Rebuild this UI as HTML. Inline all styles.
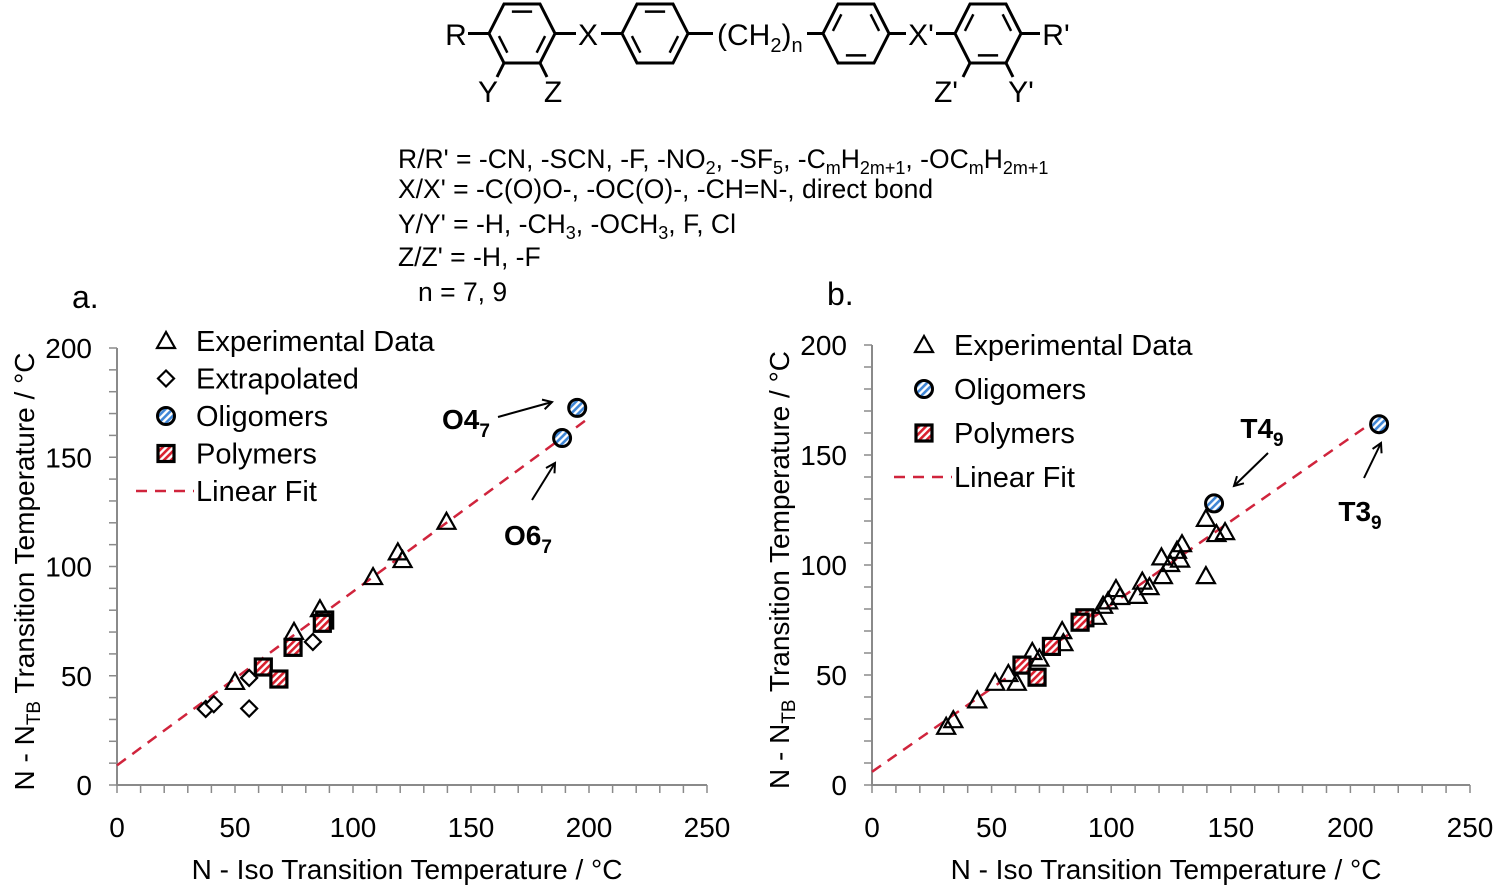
<!DOCTYPE html>
<html><head><meta charset="utf-8"><style>
html,body{margin:0;padding:0;background:#fff;}
svg{display:block;font-family:"Liberation Sans",Arial,sans-serif;}
</style></head><body>
<svg id="fig" width="1500" height="889" viewBox="0 0 1500 889">
<defs>
<pattern id="hr" width="5" height="5" patternUnits="userSpaceOnUse" patternTransform="rotate(45)"><rect width="5" height="5" fill="#fff"/><rect width="2.6" height="5" fill="#d9202e"/></pattern>
<pattern id="hb" width="5" height="5" patternUnits="userSpaceOnUse" patternTransform="rotate(45)"><rect width="5" height="5" fill="#fff"/><rect width="2.6" height="5" fill="#3f86d6"/></pattern>
<marker id="ah" markerWidth="12" markerHeight="12" refX="10" refY="6" orient="auto" markerUnits="userSpaceOnUse"><path d="M1,1 L10,6 L1,11" fill="none" stroke="#000" stroke-width="2"/></marker>
</defs>
<g id="structure" stroke="#000" stroke-width="3" fill="none"></g>
<g font-size="26.5" fill="#000">
<text x="398" y="168">R/R' = -CN, -SCN, -F, -NO<tspan font-size="18" dy="6">2</tspan><tspan dy="-6">, -SF</tspan><tspan font-size="18" dy="6">5</tspan><tspan dy="-6">, -C</tspan><tspan font-size="18" dy="6">m</tspan><tspan dy="-6">H</tspan><tspan font-size="18" dy="6">2m+1</tspan><tspan dy="-6">, -OC</tspan><tspan font-size="18" dy="6">m</tspan><tspan dy="-6">H</tspan><tspan font-size="18" dy="6">2m+1</tspan></text>
<text x="398" y="198">X/X' = -C(O)O-, -OC(O)-, -CH=N-, direct bond</text>
<text x="398" y="233">Y/Y' = -H, -CH<tspan font-size="18" dy="6">3</tspan><tspan dy="-6">, -OCH</tspan><tspan font-size="18" dy="6">3</tspan><tspan dy="-6">, F, Cl</tspan></text>
<text x="398" y="266">Z/Z' = -H, -F</text>
<text x="418" y="301">n  = 7, 9</text>
</g>
<g id="chartA"></g>
<g id="chartB"></g>
</svg>
<script>
// ---------- data ----------
const xTicks = [0, 50, 100, 150, 200, 250];
const yTicks = [0, 50, 100, 150, 200];
// chart a
const aExpX = [50, 75, 86, 108.5, 119, 121, 139.6];
const aExpY = [46.7, 69.6, 80, 94.7, 106, 102.5, 120];
const aExtX = [37.6, 41, 56, 56, 83];
const aExtY = [34.8, 37, 49, 35, 65.5];
const aOligX = [195, 188.6];
const aOligY = [172.6, 158.8];
const aPolyX = [62, 68.6, 74.6, 88, 87];
const aPolyY = [54, 48.5, 63, 75.5, 74];
const aFitX = [0, 200];
const aFitY = [9, 168];
// chart b
const bExpX = [31, 34, 44, 51.5, 57, 60.5, 67, 70, 79.5, 80, 94, 96.6, 98.7, 102, 103.7, 111, 113, 116, 121, 121.6, 124.6, 127.5, 129.6, 128.8, 139.6, 139.6, 144, 147.6];
const bExpY = [26, 29, 38, 46, 50, 46, 60, 57, 69.5, 64, 76, 81, 83, 88.6, 85, 85.5, 92, 89.5, 103, 94.5, 100, 106, 109, 102, 120.5, 94.5, 113.6, 114.5];
const bOligX = [143, 212];
const bOligY = [128, 164];
const bPolyX = [62.7, 69, 75, 89, 87];
const bPolyY = [54.5, 49, 63, 76, 74];
const bFitX = [0, 212];
const bFitY = [6, 167];

const NS = "http://www.w3.org/2000/svg";
function el(parent, tag, attrs, text){
  const e = document.createElementNS(NS, tag);
  for (const k in attrs) e.setAttribute(k, attrs[k]);
  if (text !== undefined) e.textContent = text;
  parent.appendChild(e);
  return e;
}

// ---------- structure ----------
(function(){
  const g = document.getElementById('structure');
  const cy = 33.5;
  function hex(cx, inner){
    const pts = [[cx-33,cy],[cx-18,cy-29.5],[cx+18,cy-29.5],[cx+33,cy],[cx+18,cy+29.5],[cx-18,cy+29.5]];
    const p = el(g,'polygon',{points:pts.map(p=>p.join(',')).join(' ')});
    
    
    inner.forEach(i=>{
      const a=pts[i], b=pts[(i+1)%6];
      const s=0.74;
      const ax=cx+(a[0]-cx)*s, ay=cy+(a[1]-cy)*s, bx=cx+(b[0]-cx)*s, by=cy+(b[1]-cy)*s;
      const sh=0.12;
      el(g,'line',{x1:ax+(bx-ax)*sh,y1:ay+(by-ay)*sh,x2:bx-(bx-ax)*sh,y2:by-(by-ay)*sh,'stroke-width':2.5});
    });
  }
  hex(522,[1,3,5]); hex(655,[1,3,5]); hex(856,[0,2,4]); hex(988,[0,2,4]);
  const L=(x1,y1,x2,y2)=>el(g,'line',{x1,y1,x2,y2});
  L(468,cy,489,cy); L(555,cy,576,cy); L(601,cy,622,cy); L(688,cy,713,cy);
  L(807,cy,823,cy); L(889,cy,906,cy); L(936,cy,955,cy); L(1021,cy,1040,cy);
  L(504,63,497,77); L(540,63,547,77); L(970,63,963,77); L(1006,63,1013,77);
  const t=(x,y,s,nm)=>{const e=el(g,'text',{x,y,'font-size':30,fill:'#000',stroke:'none','text-anchor':'middle'},s);   return e;};
  t(456,45,'R','r-label'); t(588,45,'X','x-label'); t(488,102,'Y','y-label'); t(553,102,'Z','z-label');
  t(921,45,"X'",'x-prime-label'); t(1056,45,"R'",'r-prime-label'); t(946,102,"Z'",'z-prime-label'); t(1021,102,"Y'",'y-prime-label');
  const ch=el(g,'text',{x:717,y:45,'font-size':30,fill:'#000',stroke:'none','text-anchor':'start'});
   
  ch.innerHTML='(CH<tspan font-size="20" dy="7">2</tspan><tspan dy="-7">)</tspan><tspan font-size="20" dy="7">n</tspan>';
})();

// ---------- chart builder ----------
function buildChart(gid, o){
  const g = document.getElementById(gid);
  const sx = v => o.x0 + v * (o.x1 - o.x0) / 250;
  const sy = v => o.y0 - v * (o.y0 - o.y1) / 200;
  const ax = el(g,'g',{});
   
  el(ax,'line',{x1:o.x0,y1:o.y0,x2:o.x1,y2:o.y0,stroke:'#8a8a8a','stroke-width':2});
  el(ax,'line',{x1:o.x0,y1:o.y0+1,x2:o.x0,y2:o.y1,stroke:'#8a8a8a','stroke-width':2});
  for (let v=0; v<=250; v+=10){ el(ax,'line',{x1:sx(v),y1:o.y0,x2:sx(v),y2:o.y0+8,stroke:'#8a8a8a','stroke-width':1.5}); }
  for (let v=0; v<=200; v+=10){ el(ax,'line',{x1:o.x0-8,y1:sy(v),x2:o.x0,y2:sy(v),stroke:'#8a8a8a','stroke-width':1.5}); }
  xTicks.forEach(v=>{const t=el(ax,'text',{x:sx(v),y:o.y0+52,'font-size':28,'text-anchor':'middle',fill:'#000'},String(v));
     });
  yTicks.forEach(v=>{const t=el(ax,'text',{x:o.x0-25,y:sy(v)+10,'font-size':28,'text-anchor':'end',fill:'#000'},String(v));
     });
  const xt=el(g,'text',{x:(o.x0+o.x1)/2-5,y:o.y0+94,'font-size':28,'text-anchor':'middle',fill:'#000'},'N - Iso Transition Temperature / °C');
   
  const yt=el(g,'text',{x:0,y:0,'font-size':28,'text-anchor':'middle',fill:'#000',transform:`translate(${o.x0-83},${(o.y0+o.y1)/2+5}) rotate(-90)`});
  yt.innerHTML='N - N<tspan font-size="19" dy="6">TB</tspan><tspan dy="-6"> Transition Temperature / °C</tspan>';
   
  const pl=el(g,'text',{x:o.x0-45,y:o.y1-40,'font-size':32,fill:'#000'},o.panel);
   
  const fit=el(g,'line',{x1:sx(o.fitX[0]),y1:sy(o.fitY[0]),x2:sx(o.fitX[1]),y2:sy(o.fitY[1]),stroke:'#d0243c','stroke-width':2.5,'stroke-dasharray':'11,8'});
   
  const tri=(p,x,y)=>el(p,'polygon',{points:`${x},${y-10} ${x-9},${y+6} ${x+9},${y+6}`,fill:'none',stroke:'#000','stroke-width':2.2});
  const dia=(p,x,y)=>el(p,'polygon',{points:`${x},${y-8} ${x+8},${y} ${x},${y+8} ${x-8},${y}`,fill:'#fff',stroke:'#000','stroke-width':2.2});
  const sq=(p,x,y)=>el(p,'rect',{x:x-8,y:y-8,width:16,height:16,fill:'url(#hr)',stroke:'#000','stroke-width':3.2});
  const ci=(p,x,y)=>el(p,'circle',{cx:x,cy:y,r:8.5,fill:'url(#hb)',stroke:'#000','stroke-width':3});
  const series=(name,X,Y,fn)=>{const s=el(g,'g',{});
    X.forEach((v,i)=>{const m=fn(s,sx(v),sy(Y[i]));});};
  series('experimental-data',o.expX,o.expY,tri);
  if (o.extX) series('extrapolated',o.extX,o.extY,dia);
  series('polymers',o.polyX,o.polyY,sq);
  series('oligomers',o.oligX,o.oligY,ci);
  const lg=el(g,'g',{});  
  o.legend.forEach((it,i)=>{
    const y=o.ly+i*o.lsp, x=o.lx;
    const e=el(lg,'g',{});  
    if(it.t==='tri') tri(e,x,y+1); else if(it.t==='dia') dia(e,x,y); else if(it.t==='sq') sq(e,x,y); else if(it.t==='ci') ci(e,x,y);
    else el(e,'line',{x1:x-30,y1:y,x2:x+28,y2:y,stroke:'#d0243c','stroke-width':2.5,'stroke-dasharray':'11,8'});
    el(e,'text',{x:x+30,y:y+10,'font-size':29,fill:'#000'},it.s);
  });
  o.ann.forEach(a=>{
    const t=el(g,'text',{x:a.tx,y:a.ty,'font-size':28,'font-weight':'bold',fill:'#000','text-anchor':'middle'});
    t.innerHTML=a.main+'<tspan font-size="19" dy="8">'+a.sub+'</tspan>';
     
    const ar=el(g,'line',{x1:a.x1,y1:a.y1,x2:a.x2,y2:a.y2,stroke:'#000','stroke-width':2,'marker-end':'url(#ah)'});
     
  });
}

buildChart('chartA',{x0:117,x1:707,y0:785,y1:348,panel:'a.',
  expX:aExpX,expY:aExpY,extX:aExtX,extY:aExtY,oligX:aOligX,oligY:aOligY,polyX:aPolyX,polyY:aPolyY,fitX:aFitX,fitY:aFitY,
  lx:166,ly:341,lsp:37.5,
  legend:[{t:'tri',s:'Experimental Data'},{t:'dia',s:'Extrapolated'},{t:'ci',s:'Oligomers'},{t:'sq',s:'Polymers'},{t:'fit',s:'Linear Fit'}],
  ann:[{main:'O4',sub:'7',tx:466,ty:429,x1:498,y1:417,x2:552,y2:402},
       {main:'O6',sub:'7',tx:528,ty:545,x1:532,y1:500,x2:555,y2:463}]});
buildChart('chartB',{x0:872,x1:1470,y0:785,y1:345,panel:'b.',
  expX:bExpX,expY:bExpY,oligX:bOligX,oligY:bOligY,polyX:bPolyX,polyY:bPolyY,fitX:bFitX,fitY:bFitY,
  lx:924,ly:345,lsp:44,
  legend:[{t:'tri',s:'Experimental Data'},{t:'ci',s:'Oligomers'},{t:'sq',s:'Polymers'},{t:'fit',s:'Linear Fit'}],
  ann:[{main:'T4',sub:'9',tx:1262,ty:438,x1:1268,y1:453,x2:1234,y2:486},
       {main:'T3',sub:'9',tx:1360,ty:521,x1:1364,y1:478,x2:1381,y2:443}]});
</script>
</body></html>
